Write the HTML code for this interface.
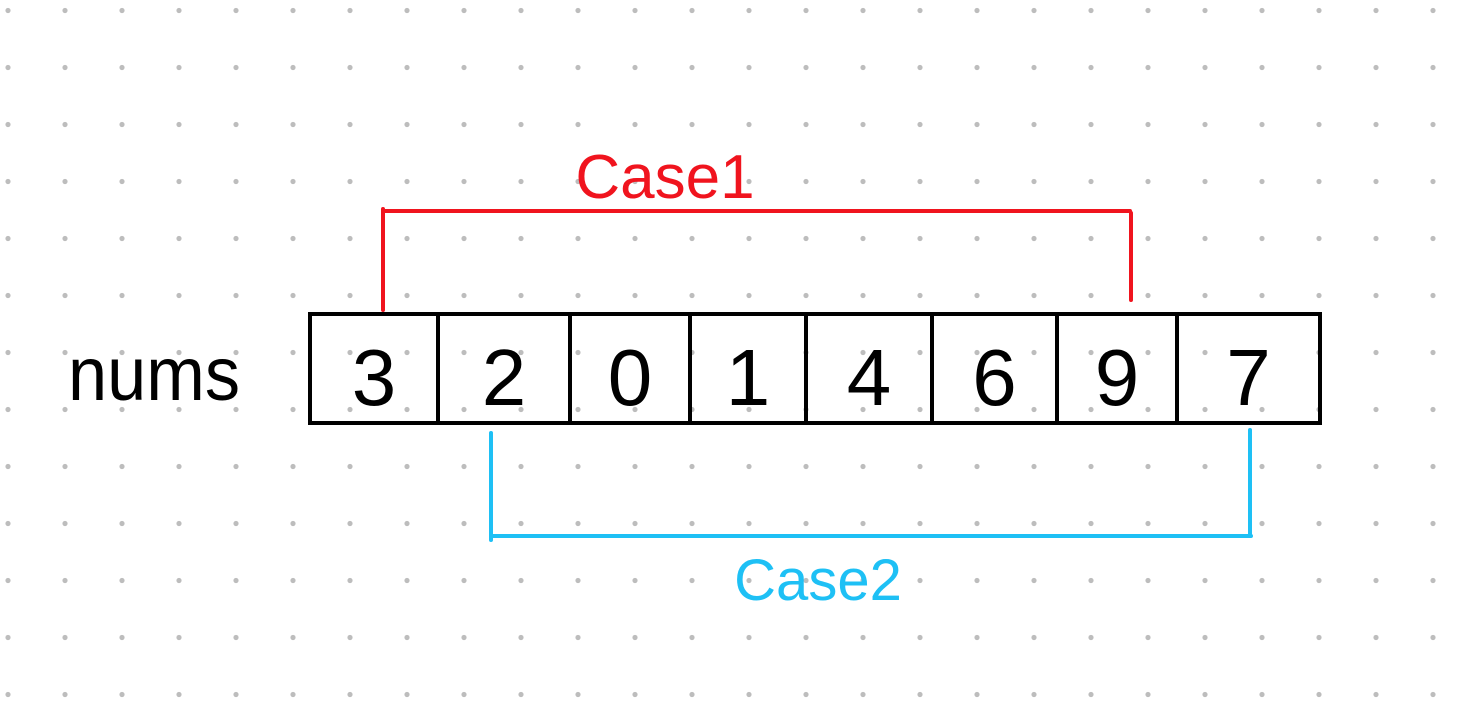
<!DOCTYPE html>
<html><head><meta charset="utf-8"><style>
html,body{margin:0;padding:0;background:#fff;}
svg{display:block;}
text{font-family:"Liberation Sans",sans-serif;}
</style></head><body>
<svg id="c" width="1474" height="724" viewBox="0 0 1474 724" xmlns="http://www.w3.org/2000/svg">
<g id="dots" fill="#bdbdbd"></g>
<text x="68" y="400" font-size="76" fill="#000" textLength="172" lengthAdjust="spacingAndGlyphs">nums</text>
<rect x="310" y="314" width="1010" height="109" fill="none" stroke="#000" stroke-width="4"/>
<g id="cells"></g>
<g stroke="#f0141e" stroke-width="4" fill="none" stroke-linecap="round">
<path d="M383 310 V209 M385 211 H1130 M1131 213 V300"/>
</g>
<text x="665" y="198" font-size="62" fill="#f0141e" text-anchor="middle">Case1</text>
<g stroke="#1ec0f5" stroke-width="4" fill="none" stroke-linecap="round">
<path d="M491 433 V540 M491 536 H1251 M1250 430 V536"/>
</g>
<text x="818" y="600" font-size="58" fill="#1ec0f5" text-anchor="middle">Case2</text>
</svg>
<script>
const values=[3,2,0,1,4,6,9,7];
const dividers=[310,438,570,690,806,932,1057,1177,1320];
const ns="http://www.w3.org/2000/svg";
const dots=document.getElementById('dots');
for(let y=10.5;y<724;y+=57){for(let x=8;x<1474;x+=57){
const c=document.createElementNS(ns,'circle');


c.setAttribute('cx',x);c.setAttribute('cy',y);c.setAttribute('r',2.6);dots.appendChild(c);}}
const cells=document.getElementById('cells');
values.forEach((v,i)=>{
const x0=dividers[i],x1=dividers[i+1];
if(i>0){const l=document.createElementNS(ns,'line');


l.setAttribute('x1',x0);l.setAttribute('x2',x0);l.setAttribute('y1',316);l.setAttribute('y2',421);
l.setAttribute('stroke','#000');l.setAttribute('stroke-width',4);cells.appendChild(l);}
const t=document.createElementNS(ns,'text');


t.setAttribute('x',(x0+x1)/2);t.setAttribute('y',405);t.setAttribute('font-size',80);
t.setAttribute('text-anchor','middle');t.setAttribute('fill','#000');
t.textContent=v;cells.appendChild(t);
});
</script>
</body></html>
